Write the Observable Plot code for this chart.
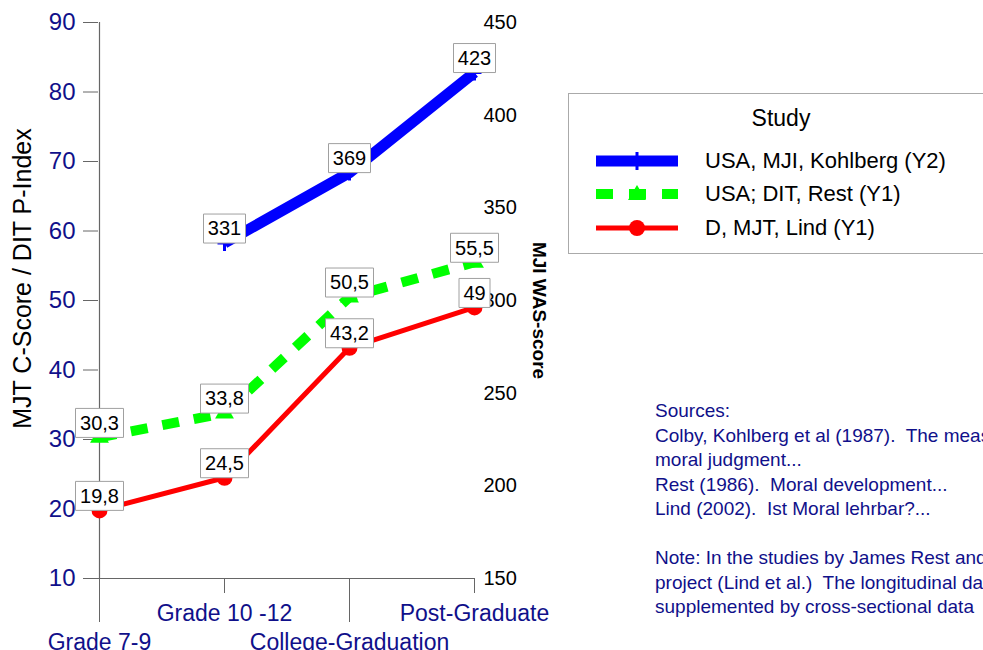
<!DOCTYPE html>
<html>
<head>
<meta charset="utf-8">
<script src="https://cdn.jsdelivr.net/npm/d3@7"></script>
<script src="https://cdn.jsdelivr.net/npm/@observablehq/plot@0.6"></script>
<style>
  body { margin: 0; background: white; overflow: hidden; font-family: "Liberation Sans", Arial, sans-serif; }
  #wrap { position: relative; width: 983px; height: 650px; overflow: hidden; background: white; }
  #chart { position: absolute; left: 0; top: 0; }
  #legend { position: absolute; left: 568px; top: 93px; width: 440px; height: 159px; border: 1px solid #aaa; background: white; }
  #legend .title { position: absolute; left: 0; width: 424px; top: 11px; text-align: center; font-size: 23px; color: #000; }
  #legend .row { position: absolute; left: 136px; font-size: 22px; color: #000; white-space: nowrap; line-height: 24px; }
  #legend svg { position: absolute; left: 0; top: 0; }
  #sources { position: absolute; left: 655px; top: 399px; font-size: 19px; line-height: 24.5px; color: #10108a; white-space: pre; }
</style>
</head>
<body>
<div id="wrap">
  <div id="chart"></div>
  <div id="legend"></div>
  <div id="sources"></div>
</div>
<script>
// ---------- data ----------
const categories = ["Grade 7-9", "Grade 10 -12", "College-Graduation", "Post-Graduate"];
const kohlbergWAS = [null, 331, 369, 423];      // Y2 (MJI WAS-score)
const restPIndex = [30.3, 33.8, 50.5, 55.5];     // Y1 (DIT P-Index)
const lindCScore = [19.8, 24.5, 43.2, 49];       // Y1 (MJT C-Score)
const leftTicks = [10, 20, 30, 40, 50, 60, 70, 80, 90];
const rightTicks = [150, 200, 250, 300, 350, 400, 450];
const seriesNames = ["USA, MJI, Kohlberg (Y2)", "USA; DIT, Rest (Y1)", "D, MJT, Lind (Y1)"];
const seriesColors = ["#0000ff", "#00ff00", "#ff0000"];
const legendTitle = "Study";
const yLabelLeft = "MJT C-Score / DIT P-Index";
const yLabelRight = "MJI WAS-score";
const sourceLines = [
  "Sources:",
  "Colby, Kohlberg et al (1987).  The measurement of",
  "moral judgment...",
  "Rest (1986).  Moral development...",
  "Lind (2002).  Ist Moral lehrbar?...",
  "",
  "Note: In the studies by James Rest and in the MUSE",
  "project (Lind et al.)  The longitudinal data were",
  "supplemented by cross-sectional data"
];

// ---------- helpers ----------
const y1Domain = [10, 90];
const y2Domain = [150, 450];
const toY1 = d3.scaleLinear().domain(y2Domain).range(y1Domain);
const fmt = v => String(v).replace(".", ",");

function series(values, mapY) {
  return categories.map((c, i) => ({cat: c, raw: values[i], y: values[i] == null ? null : mapY(values[i])}))
    .filter(d => d.raw != null);
}
const blue = series(kohlbergWAS, toY1);
const green = series(restPIndex, v => v);
const red = series(lindCScore, v => v);
const allLabels = [...blue, ...green, ...red];

const FONT = '"Liberation Sans", Arial, sans-serif';
const navy = "#10108a";
const axisGray = "#666";

// measure label widths for boxes
const mctx = document.createElement("canvas").getContext("2d");
mctx.font = "20px " + FONT;
const boxH = 29;
function boxSymbol(w, h) {
  return {draw(ctx) {
    ctx.moveTo(-w / 2, -h);
    ctx.lineTo(w / 2, -h);
    ctx.lineTo(w / 2, 0);
    ctx.lineTo(-w / 2, 0);
    ctx.closePath();
  }};
}
const plusSymbol = {draw(ctx) {
  ctx.moveTo(0, -8); ctx.lineTo(0, 8);
  ctx.moveTo(-7, 0); ctx.lineTo(7, 0);
}};

const boxMarks = allLabels.map(d => {
  const w = Math.round(mctx.measureText(fmt(d.raw)).width + 9);
  return Plot.dot([d], {x: "cat", y: "y", symbol: boxSymbol(w, boxH), r: 5, fill: "white", stroke: "#a0a0a0", strokeWidth: 1});
});

const chart = Plot.plot({
  width: 983,
  height: 650,
  marginLeft: 98,
  marginRight: 508,
  marginTop: 22,
  marginBottom: 72,
  style: {fontFamily: FONT, fontSize: "20px", background: "transparent", overflow: "visible"},
  x: {type: "point", domain: categories, padding: 0, axis: null},
  y: {domain: y1Domain, axis: null},
  marks: [
    // axis lines
    Plot.ruleX([categories[0]], {stroke: axisGray, strokeWidth: 1.2}),
    Plot.ruleY([y1Domain[0]], {stroke: axisGray, strokeWidth: 1.2}),
    // left axis
    Plot.axisY(leftTicks, {anchor: "left", tickSize: 15, tickPadding: 8, fontSize: 24, stroke: axisGray, fill: navy, label: null}),
    // right axis (Y2 values mapped onto Y1 positions)
    Plot.axisY(rightTicks.map(toY1), {anchor: "right", tickSize: 0, tickPadding: 8, fontSize: 20, fill: "black", tickFormat: d => String(Math.round(toY1.invert(d))), label: null}),
    // x axis: alternating tick lengths
    Plot.axisX([categories[0], categories[2]], {anchor: "bottom", tickSize: 44, tickPadding: 11, fontSize: 23, stroke: axisGray, fill: navy, label: null}),
    Plot.axisX([categories[1], categories[3]], {anchor: "bottom", tickSize: 15, tickPadding: 11, fontSize: 23, stroke: axisGray, fill: navy, label: null}),
    // axis titles
    Plot.text([yLabelLeft], {text: d => d, frameAnchor: "left", textAnchor: "middle", dx: -76, dy: -22, rotate: -90, fontSize: 25, fill: "black"}),
    Plot.text([yLabelRight], {text: d => d, frameAnchor: "right", textAnchor: "middle", dx: 64, dy: 10, rotate: 90, fontSize: 19, fontWeight: "bold", fill: "black"}),
    // lines
    Plot.line(red, {x: "cat", y: "y", stroke: seriesColors[2], strokeWidth: 5, strokeLinecap: "butt", strokeLinejoin: "miter"}),
    Plot.line(green, {x: "cat", y: "y", stroke: seriesColors[1], strokeWidth: 10, strokeDasharray: "17,15", strokeLinecap: "butt", strokeLinejoin: "miter"}),
    Plot.line(blue, {x: "cat", y: "y", stroke: seriesColors[0], strokeWidth: 11, strokeLinecap: "butt", strokeLinejoin: "miter"}),
    // markers
    Plot.dot(red, {x: "cat", y: "y", r: 8, fill: seriesColors[2]}),
    Plot.dot(green, {x: "cat", y: "y", r: 7, symbol: "triangle", fill: seriesColors[1]}),
    Plot.dot(blue, {x: "cat", y: "y", r: 5, symbol: plusSymbol, fill: "none", stroke: seriesColors[0], strokeWidth: 3}),
    // value labels in boxes
    ...boxMarks,
    Plot.text(allLabels, {x: "cat", y: "y", text: d => fmt(d.raw), dy: -14, lineAnchor: "middle", fontSize: 20, fill: "black"})
  ]
});
document.getElementById("chart").appendChild(chart);

// ---------- legend ----------
const legend = document.getElementById("legend");
const rowY = [67, 100, 134];
let svg = `<svg width="130" height="159">`;
svg += `<line x1="27" x2="109" y1="${rowY[0]}" y2="${rowY[0]}" stroke="${seriesColors[0]}" stroke-width="11"/>`;
svg += `<line x1="68" x2="68" y1="${rowY[0] - 9}" y2="${rowY[0] + 9}" stroke="${seriesColors[0]}" stroke-width="3"/>`;
svg += `<line x1="27" x2="109" y1="${rowY[1]}" y2="${rowY[1]}" stroke="${seriesColors[1]}" stroke-width="10" stroke-dasharray="17,16"/>`;
svg += `<path d="M68,${rowY[1] - 9} L77,${rowY[1] + 6} L59,${rowY[1] + 6} Z" fill="${seriesColors[1]}"/>`;
svg += `<line x1="27" x2="109" y1="${rowY[2]}" y2="${rowY[2]}" stroke="${seriesColors[2]}" stroke-width="5"/>`;
svg += `<circle cx="68" cy="${rowY[2]}" r="8" fill="${seriesColors[2]}"/>`;
svg += `</svg>`;
let html = svg + `<div class="title">${legendTitle}</div>`;
seriesNames.forEach((n, i) => {
  html += `<div class="row" style="top:${rowY[i] - 12}px">${n}</div>`;
});
legend.innerHTML = html;

document.getElementById("sources").textContent = sourceLines.join("\n");
</script>
</body>
</html>
